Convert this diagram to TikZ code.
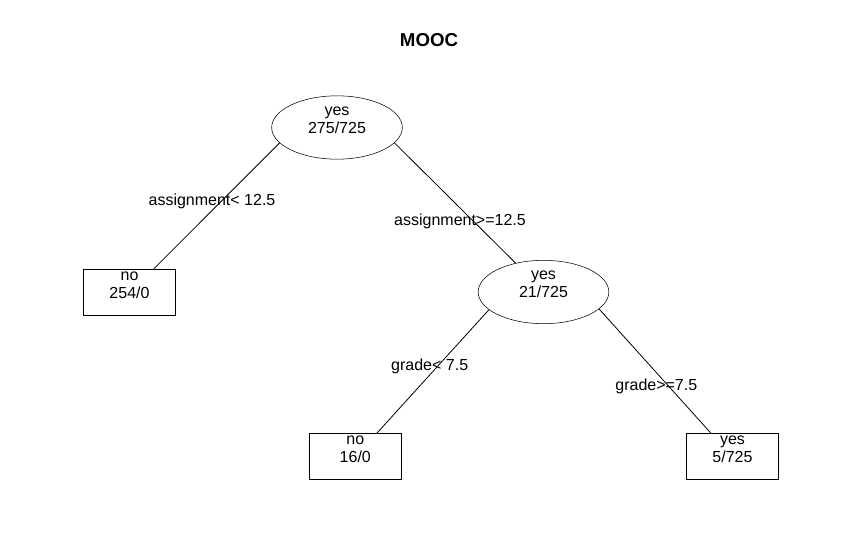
\documentclass[tikz,border=0pt]{standalone}
\usepackage{fontspec}
\setmainfont{Liberation Sans}
\usetikzlibrary{shapes.geometric}

\begin{document}
\begin{tikzpicture}[x=0.75pt,y=-0.75pt]
\tikzset{split/.style = {shape=ellipse,draw,minimum width=98pt,minimum height=47.5pt,inner sep=0pt}}
\tikzset{leaf/.style = {shape=rectangle,draw,minimum width=69pt,minimum height=34.5pt,inner sep=0pt}}
\tikzset{txt/.style = {align=center,inner sep=0pt,font=\fontsize{12}{13.5}\selectfont}}
\tikzset{branch/.style = {line width=0.6pt}}
\useasboundingbox (0,0) rectangle (862,546);
\node[font=\fontsize{14}{16}\selectfont\bfseries] (t) at (429,40) {MOOC};
\node[split,label={[txt,yshift=5.5pt]center:{yes\\275/725}}] (a) at (337,127.5) {};
\node[leaf,label={[txt,yshift=5pt]center:{no\\254/0}}] (b) at (129.5,292.3) {};
\node[split,label={[txt,yshift=5.5pt]center:{yes\\21/725}}] (c) at (543.5,292) {};
\node[leaf,label={[txt,yshift=5pt]center:{no\\16/0}}] (d) at (355.3,456.3) {};
\node[leaf,label={[txt,yshift=5pt]center:{yes\\5/725}}] (e) at (732.5,456.3) {};
\node[txt] (ab) at (212,201) {assignment< 12.5};
\node[txt] (ac) at (460,221) {assignment>=12.5};
\node[txt] (cd) at (429.7,366.4) {grade< 7.5};
\node[txt] (ce) at (656.3,386) {grade>=7.5};
\draw[branch] (a.195) -- (b.44);
\draw[branch] (a.345) -- (c.134);
\draw[branch] (c.198) -- (d.47);
\draw[branch] (c.343) -- (e.133);
\end{tikzpicture}
\end{document}
